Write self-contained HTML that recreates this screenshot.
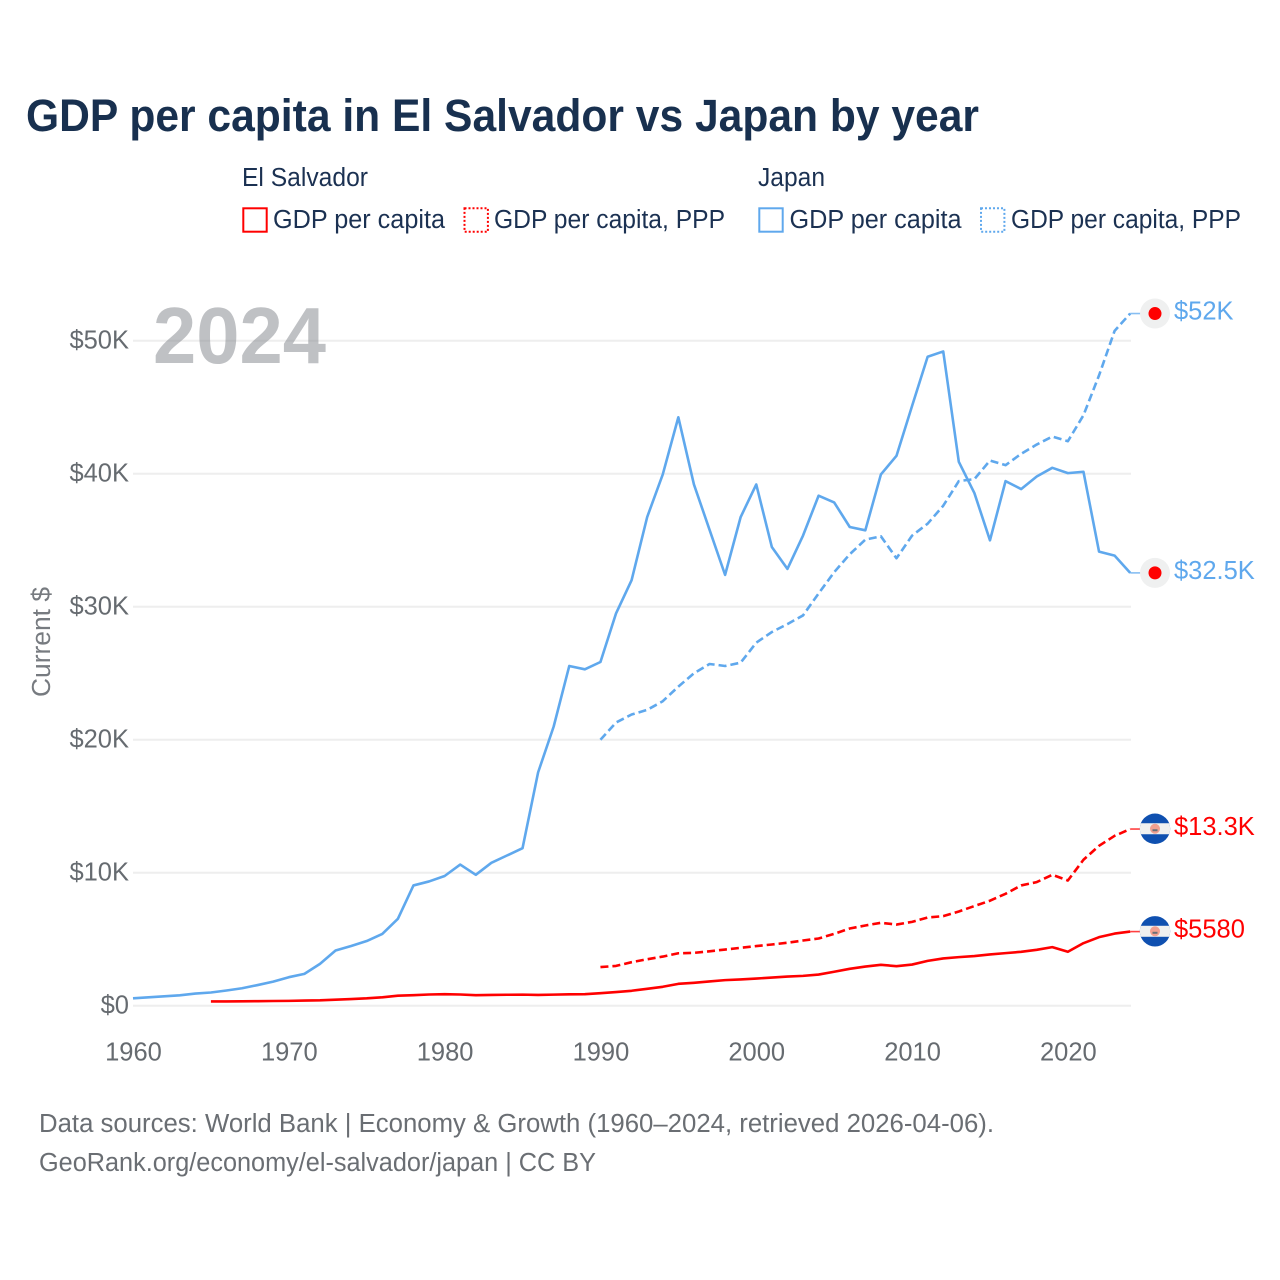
<!DOCTYPE html>
<html lang="en">
<head>
<meta charset="utf-8">
<title>GDP per capita in El Salvador vs Japan by year</title>
<style>
html,body{margin:0;padding:0;background:#fff;}
svg{display:block;font-family:"Liberation Sans",sans-serif;}
</style>
</head>
<body>
<svg id="chart" xmlns="http://www.w3.org/2000/svg" width="1280" height="1280" viewBox="0 0 1280 1280">
  <rect width="1280" height="1280" fill="#fff"/>
  <text x="26" y="131" font-size="45" font-weight="700" fill="#18304f" textLength="953" lengthAdjust="spacingAndGlyphs">GDP per capita in El Salvador vs Japan by year</text>

  <g font-size="25.5" fill="#1b3152">
    <text x="242" y="186" textLength="126" lengthAdjust="spacingAndGlyphs">El Salvador</text>
    <text x="758" y="186" textLength="67" lengthAdjust="spacingAndGlyphs">Japan</text>
    <g>
      <rect x="243.3" y="208.3" width="23.4" height="23.4" fill="none" stroke="#ff0000" stroke-width="2"/>
      <text x="273" y="228" textLength="172" lengthAdjust="spacingAndGlyphs">GDP per capita</text>
    </g>
    <g>
      <rect x="464.5" y="208.3" width="23.4" height="23.4" fill="none" stroke="#ff0000" stroke-width="2" stroke-dasharray="2 2"/>
      <text x="494" y="228" textLength="231" lengthAdjust="spacingAndGlyphs">GDP per capita, PPP</text>
    </g>
    <g>
      <rect x="759.3" y="208.3" width="23.4" height="23.4" fill="none" stroke="#5fa8ed" stroke-width="2"/>
      <text x="789.5" y="228" textLength="172" lengthAdjust="spacingAndGlyphs">GDP per capita</text>
    </g>
    <g>
      <rect x="981" y="208.3" width="23.4" height="23.4" fill="none" stroke="#5fa8ed" stroke-width="2" stroke-dasharray="2 2"/>
      <text x="1011" y="228" textLength="230" lengthAdjust="spacingAndGlyphs">GDP per capita, PPP</text>
    </g>
  </g>

  <g id="grid"></g>
  <text x="153" y="363" font-size="80" font-weight="700" fill="#808489" fill-opacity="0.5" textLength="173" lengthAdjust="spacingAndGlyphs">2024</text>
  <g id="yticks"></g>
  <g id="xticks"></g>
  <text transform="translate(50,642) rotate(-90)" text-anchor="middle" font-size="25.5" fill="#777b80" textLength="110" lengthAdjust="spacingAndGlyphs">Current $</text>
  <g id="series"></g>
  <g id="ends"></g>

  <g font-size="25.5" fill="#6a6e73">
    <text x="39" y="1132" textLength="955" lengthAdjust="spacingAndGlyphs">Data sources: World Bank | Economy &amp; Growth (1960–2024, retrieved 2026-04-06).</text>
    <text x="39" y="1171" textLength="557" lengthAdjust="spacingAndGlyphs">GeoRank.org/economy/el-salvador/japan | CC BY</text>
  </g>
</svg>
<script>
const years = [1960,1961,1962,1963,1964,1965,1966,1967,1968,1969,1970,1971,1972,1973,1974,1975,1976,1977,1978,1979,1980,1981,1982,1983,1984,1985,1986,1987,1988,1989,1990,1991,1992,1993,1994,1995,1996,1997,1998,1999,2000,2001,2002,2003,2004,2005,2006,2007,2008,2009,2010,2011,2012,2013,2014,2015,2016,2017,2018,2019,2020,2021,2022,2023,2024];
const japanGdp = [0.56,0.64,0.71,0.79,0.92,1.0,1.15,1.32,1.56,1.82,2.15,2.4,3.15,4.16,4.5,4.87,5.4,6.54,9.05,9.35,9.76,10.62,9.85,10.75,11.3,11.85,17.55,21.0,25.55,25.3,25.85,29.5,32.0,36.75,39.95,44.25,39.2,35.8,32.4,36.75,39.2,34.5,32.85,35.35,38.35,37.85,36.0,35.75,39.95,41.35,45.1,48.8,49.2,40.9,38.55,35.0,39.45,38.85,39.8,40.45,40.05,40.15,34.15,33.85,32.55];
const japanPpp = [null,null,null,null,null,null,null,null,null,null,null,null,null,null,null,null,null,null,null,null,null,null,null,null,null,null,null,null,null,null,20.0,21.3,21.9,22.25,22.9,24.0,25.0,25.7,25.55,25.8,27.3,28.1,28.7,29.35,31.0,32.6,33.95,35.05,35.3,33.65,35.35,36.25,37.6,39.45,39.6,41.0,40.65,41.5,42.2,42.8,42.45,44.4,47.4,50.75,52.05];
const salvadorGdp = [null,null,null,null,null,0.33,0.33,0.34,0.35,0.36,0.37,0.39,0.41,0.46,0.51,0.56,0.64,0.76,0.8,0.85,0.87,0.85,0.8,0.82,0.83,0.84,0.82,0.84,0.86,0.87,0.95,1.03,1.13,1.28,1.43,1.65,1.73,1.83,1.93,1.98,2.05,2.12,2.2,2.25,2.35,2.56,2.78,2.95,3.08,2.98,3.1,3.38,3.56,3.66,3.74,3.86,3.96,4.06,4.21,4.41,4.06,4.71,5.16,5.43,5.58];
const salvadorPpp = [null,null,null,null,null,null,null,null,null,null,null,null,null,null,null,null,null,null,null,null,null,null,null,null,null,null,null,null,null,null,2.91,3.0,3.28,3.5,3.7,3.95,3.98,4.1,4.23,4.36,4.49,4.61,4.74,4.91,5.06,5.41,5.81,6.04,6.24,6.11,6.31,6.64,6.74,7.09,7.5,7.9,8.42,9.05,9.3,9.85,9.42,10.98,12.03,12.78,13.29];
const yTickValues = [0,10,20,30,40,50];
const yTickLabels = ["$0","$10K","$20K","$30K","$40K","$50K"];
const xTickValues = [1960,1970,1980,1990,2000,2010,2020];
const endLabels = ["$52K","$32.5K","$13.3K","$5580"];

const NS = "http://www.w3.org/2000/svg";
const BLUE = "#5fa8ed";
const RED = "#ff0000";
function xScale(year){ return 133 + (year - 1960) * (1130.2 - 133) / 64; }
function yScale(v){ return 1005.8 - v * 13.3; }
function make(tag, attrs, parent){
  const el = document.createElementNS(NS, tag);
  for (const k in attrs) el.setAttribute(k, attrs[k]);
  parent.appendChild(el);
  return el;
}
const grid = document.getElementById("grid");
const yticks = document.getElementById("yticks");
const xticks = document.getElementById("xticks");
const seriesG = document.getElementById("series");
const ends = document.getElementById("ends");

yTickValues.forEach(function(v, i){
  const line = make("line", {x1:133, x2:1131, y1:yScale(v), y2:yScale(v), stroke:"#eeeeee", "stroke-width":2}, grid);
  
  
  const t = make("text", {x:129, y:yScale(v)+7.5, "text-anchor":"end", "font-size":25.5, fill:"#666b70"}, yticks);
  
  
  t.textContent = yTickLabels[i];
});
xTickValues.forEach(function(year){
  const t = make("text", {x:xScale(year)+0.5, y:1060.5, "text-anchor":"middle", "font-size":25.5, fill:"#666b70"}, xticks);
  
  
  t.textContent = year;
});

function pathFor(values){
  let d = "";
  values.forEach(function(v, i){
    if (v === null) return;
    d += (d ? "L" : "M") + xScale(years[i]).toFixed(2) + " " + yScale(v).toFixed(2);
  });
  return d;
}
function drawLine(values, color, dashed){
  const p = make("path", {d:pathFor(values), fill:"none", stroke:color, "stroke-width":2.6, "stroke-linejoin":"round"}, seriesG);
  if (dashed) p.setAttribute("stroke-dasharray", "8 4");
  
  
}
drawLine(japanGdp, BLUE, false);
drawLine(japanPpp, BLUE, true);
drawLine(salvadorGdp, RED, false);
drawLine(salvadorPpp, RED, true);

function drawConnector(value, color){
  const y = yScale(value);
  const c = make("line", {x1:xScale(2024), x2:1142, y1:y, y2:y, stroke:color, "stroke-width":1.6, "stroke-opacity":0.75}, ends);
  
  
}
function drawJapanMarker(value){
  const y = yScale(value);
  const g = make("g", {}, ends);
  
  
  make("circle", {cx:1155, cy:y, r:15, fill:"#eff0f0"}, g);
  make("circle", {cx:1155, cy:y, r:6.5, fill:"#ff0000"}, g);
}
function drawSalvadorMarker(value, id){
  const y = yScale(value) - 0.3;
  const g = make("g", {}, ends);
  
  
  const clip = make("clipPath", {id:id}, g);
  make("circle", {cx:1155, cy:y, r:15.2}, clip);
  const inner = make("g", {"clip-path":"url(#" + id + ")"}, g);
  make("rect", {x:1139, y:y-16, width:32, height:32, fill:"#0f50b0"}, inner);
  make("rect", {x:1139, y:y-5.5, width:32, height:11, fill:"#eff0f0"}, inner);
  make("circle", {cx:1155, cy:y, r:5, fill:"#f2a090"}, inner);
  make("rect", {x:1152.5, y:y+0.5, width:5, height:2, fill:"#6a7078"}, inner);
}
function drawEndLabel(value, text, color){
  const t = make("text", {x:1174, y:yScale(value)+6, "font-size":25.5, fill:color}, ends);
  
  
  t.textContent = text;
}
const lastJapanPpp = japanPpp[japanPpp.length-1];
const lastJapanGdp = japanGdp[japanGdp.length-1];
const lastSalvadorPpp = salvadorPpp[salvadorPpp.length-1];
const lastSalvadorGdp = salvadorGdp[salvadorGdp.length-1];
drawConnector(lastJapanPpp, BLUE);
drawConnector(lastJapanGdp, BLUE);
drawConnector(lastSalvadorPpp, RED);
drawConnector(lastSalvadorGdp, RED);
drawJapanMarker(lastJapanPpp);
drawJapanMarker(lastJapanGdp);
drawSalvadorMarker(lastSalvadorPpp, "flag-clip-ppp");
drawSalvadorMarker(lastSalvadorGdp, "flag-clip-gdp");
drawEndLabel(lastJapanPpp, endLabels[0], BLUE);
drawEndLabel(lastJapanGdp, endLabels[1], BLUE);
drawEndLabel(lastSalvadorPpp, endLabels[2], RED);
drawEndLabel(lastSalvadorGdp, endLabels[3], RED);
</script>
</body>
</html>
